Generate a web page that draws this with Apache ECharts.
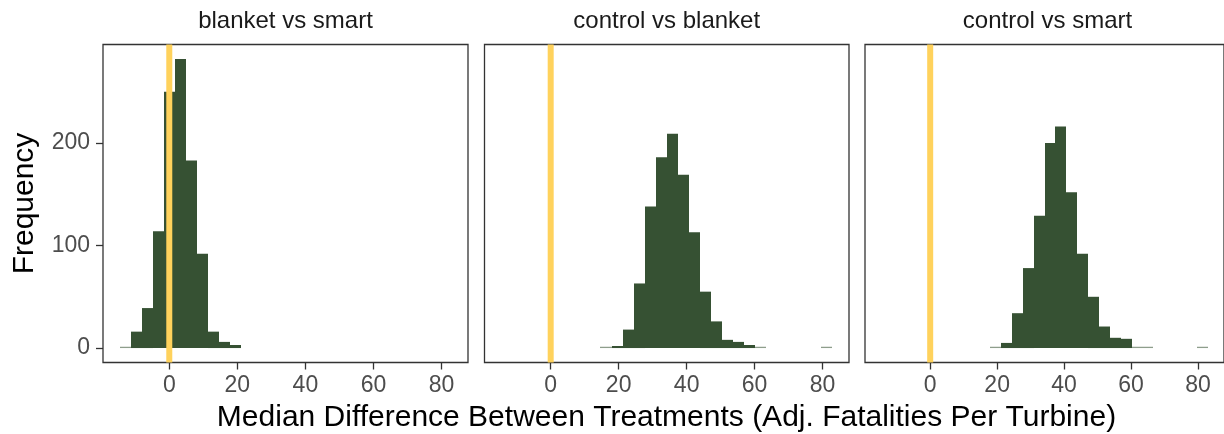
<!DOCTYPE html>
<html>
<head>
<meta charset="utf-8">
<script src="https://cdn.jsdelivr.net/npm/echarts@6/dist/echarts.min.js"></script>
<style>
html,body{margin:0;padding:0;background:#fff;}
#chart{width:1224px;height:434px;}
</style>
</head>
<body>
<div id="chart"></div>
<script>
// ---- data ----
const panelTitles = ['blanket vs smart', 'control vs blanket', 'control vs smart'];
const binEdges = [-14.6, -11.35, -8.1, -4.85, -1.6, 1.65, 4.9, 8.15, 11.4, 14.65, 17.9, 21.15, 24.4, 27.65, 30.9, 34.15, 37.4, 40.65, 43.9, 47.15, 50.4, 53.65, 56.9, 60.15, 63.4, 66.65, 69.9, 73.15, 76.4, 79.65, 82.9];
const countsBlanketSmart   = [1, 16, 39, 114, 250, 282, 183, 92, 16, 6, 3, 0, 0, 0, 0, 0, 0, 0, 0, 0, 0, 0, 0, 0, 0, 0, 0, 0, 0, 0];
const countsControlBlanket = [0, 0, 0, 0, 0, 0, 0, 0, 0, 1, 2, 18, 63, 138, 186, 209, 169, 113, 55, 26, 8, 6, 3, 1, 0, 0, 0, 0, 0, 1];
const countsControlSmart   = [0, 0, 0, 0, 0, 0, 0, 0, 0, 0, 1, 5, 34, 78, 129, 200, 216, 152, 92, 50, 21, 10, 9, 1, 1, 0, 0, 0, 0, 1];
const xTicks = [0, 20, 40, 60, 80];
const yTicks = [0, 100, 200];
const refLineX = 0;
const xTitle = 'Median Difference Between Treatments (Adj. Fatalities Per Turbine)';
const yTitle = 'Frequency';

// ---- layout / style ----
const FONT = '"Liberation Sans", Arial, sans-serif';
const xRange = [-19.475, 87.775];
const yRange = [-14.1, 296.1];
const panels = [
  {left: 103, width: 365},
  {left: 484.5, width: 364.5},
  {left: 865, width: 365}
];
const gridTop = 44.5, gridHeight = 318;
const allCounts = [countsBlanketSmart, countsControlBlanket, countsControlSmart];

const chart = echarts.init(document.getElementById('chart'), null, {renderer: 'canvas'});

const grids = [], xAxes = [], yAxes = [], series = [], graphics = [];
panels.forEach((p, i) => {
  grids.push({left: p.left, top: gridTop, width: p.width, height: gridHeight,
    show: true, borderColor: '#333333', borderWidth: 1.3, backgroundColor: 'transparent', containLabel: false});
  xAxes.push({type: 'value', gridIndex: i, min: xRange[0], max: xRange[1],
    axisLine: {show: false, onZero: false},
    axisTick: {show: true, length: 7, customValues: xTicks, lineStyle: {color: '#333333', width: 1.3}},
    axisLabel: {show: true, customValues: xTicks, margin: 12, fontSize: 23, color: '#4D4D4D', fontFamily: FONT},
    splitLine: {show: false}});
  yAxes.push({type: 'value', gridIndex: i, min: yRange[0], max: yRange[1],
    axisLine: {show: false, onZero: false},
    axisTick: {show: i === 0, length: 7, customValues: yTicks, lineStyle: {color: '#333333', width: 1.3}},
    axisLabel: {show: i === 0, customValues: yTicks, margin: 13, fontSize: 23, color: '#4D4D4D', fontFamily: FONT},
    splitLine: {show: false}});
  const data = [];
  allCounts[i].forEach((c, k) => { if (c > 0) data.push([binEdges[k], binEdges[k + 1], c]); });
  series.push({
    type: 'custom', xAxisIndex: i, yAxisIndex: i, data: data, z: 2,
    renderItem: function (params, api) {
      const p0 = api.coord([api.value(0), api.value(2)]);
      const p1 = api.coord([api.value(1), 0]);
      const xa = Math.round(p0[0]), xb = Math.round(p1[0]);
      const h = p1[1] - p0[1];
      const hh = Math.max(h, 1.3);
      return {type: 'rect',
        shape: {x: xa, y: p1[1] - hh, width: xb - xa, height: hh},
        style: {fill: h < 2 ? '#8E9E8C' : '#365133'}};
    }
  });
  series.push({
    type: 'line', xAxisIndex: i, yAxisIndex: i, z: 5, symbol: 'none', silent: true,
    data: [[refLineX, yRange[0]], [refLineX, yRange[1]]],
    lineStyle: {color: '#FFD25C', width: 6}
  });
  graphics.push({type: 'text', x: p.left + p.width / 2, y: 21, silent: true,
    style: {text: panelTitles[i], font: '24px ' + FONT, fill: '#1A1A1A', textAlign: 'center', textVerticalAlign: 'middle'}});
});
graphics.push({type: 'text', x: 666.5, y: 418, silent: true,
  style: {text: xTitle, font: '30px ' + FONT, fill: '#000000', textAlign: 'center', textVerticalAlign: 'middle'}});
graphics.push({type: 'text', x: 25, y: 203.5, rotation: Math.PI / 2, silent: true,
  style: {text: yTitle, font: '30px ' + FONT, fill: '#000000', textAlign: 'center', textVerticalAlign: 'middle'}});

chart.setOption({
  animation: false,
  backgroundColor: '#ffffff',
  grid: grids, xAxis: xAxes, yAxis: yAxes, series: series, graphic: graphics
});
</script>
</body>
</html>
